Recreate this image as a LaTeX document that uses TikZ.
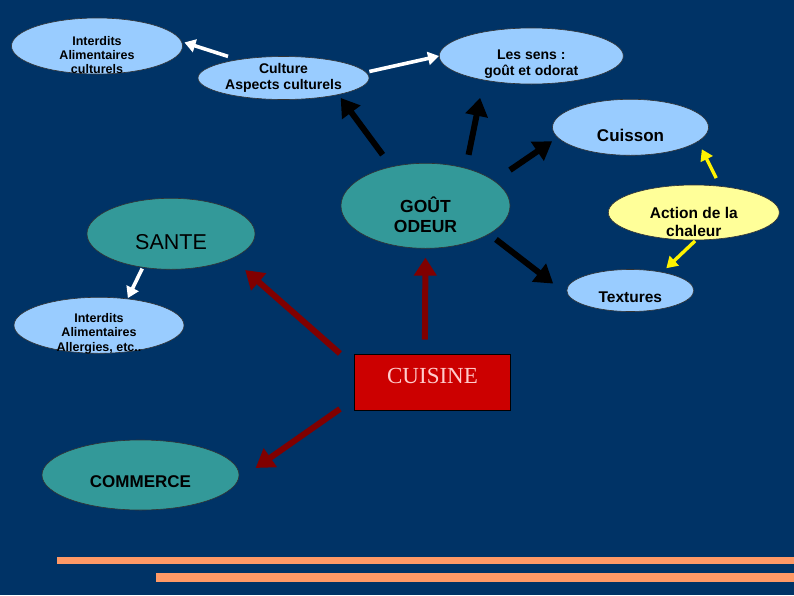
\documentclass[tikz,border=0pt]{standalone}
\usepackage{fontspec}
\setmainfont{Liberation Sans}
\newfontfamily\timesfont{Liberation Serif}
\usetikzlibrary{shapes.geometric, arrows.meta}
\newcommand\sz[2]{\fontsize{#1}{#2}\selectfont}
\definecolor{bg}{RGB}{0,51,102}
\definecolor{lblue}{RGB}{153,204,255}
\definecolor{teal}{RGB}{51,153,153}
\definecolor{lyellow}{RGB}{255,255,153}
\definecolor{cred}{RGB}{204,0,0}
\definecolor{dred}{RGB}{128,0,0}
\definecolor{barcol}{RGB}{255,153,102}
\definecolor{pinktext}{RGB}{255,204,204}
\begin{document}
\begin{tikzpicture}[x=1pt, y=-1pt,
    oval/.style={ellipse, draw=black!80, line width=0.6pt, inner sep=0pt},
    lbl/.style={align=center, text=black},
    warrow/.style={white, line width=3.6pt, -{Triangle[length=11pt, width=13pt]}},
    barrow/.style={black, line width=6pt, -{Triangle[length=18pt, width=22pt]}},
    rarrow/.style={dred, line width=6pt, -{Triangle[length=18pt, width=22pt]}},
    yarrow/.style={yellow, line width=3.4pt, -{Triangle[length=11pt, width=13pt]}}]
  \fill[bg] (0, 0) rectangle (794, 595);
  \useasboundingbox (0, 0) rectangle (794, 595);

  \node[oval, fill=lblue, minimum width=171pt, minimum height=56pt,
    label={[lbl, font=\sz{12.5}{14}\bfseries, yshift=-9pt]center:Interdits\\Alimentaires\\culturels}] (interc) at (97, 46) {};
  \node[oval, fill=lblue, minimum width=171pt, minimum height=43pt,
    label={[lbl, font=\sz{14}{15.5}\bfseries]center:Culture\\Aspects culturels}] (culture) at (283.5, 78) {};
  \node[oval, fill=lblue, minimum width=184pt, minimum height=56pt,
    label={[lbl, font=\sz{14}{16}\bfseries, yshift=-8pt]center:Les sens :\\goût et odorat}] (lessens) at (531.3, 56) {};
  \node[oval, fill=lblue, minimum width=156pt, minimum height=56pt,
    label={[lbl, font=\sz{17}{20}\bfseries, yshift=-8.5pt]center:Cuisson}] (cuisson) at (630.5, 127.3) {};
  \node[oval, fill=teal, minimum width=169pt, minimum height=85pt,
    label={[lbl, font=\sz{17.5}{20.5}\bfseries, yshift=-9pt]center:GOÛT\\ODEUR}] (gout) at (425.5, 205.8) {};
  \node[oval, fill=lyellow, minimum width=171pt, minimum height=55pt,
    label={[lbl, font=\sz{15.5}{18}\bfseries, yshift=-9pt]center:Action de la\\chaleur}] (action) at (693.8, 212.5) {};
  \node[oval, fill=lblue, minimum width=127pt, minimum height=42pt,
    label={[lbl, font=\sz{15.5}{18}\bfseries, yshift=-7pt]center:Textures}] (textures) at (630.3, 290.5) {};
  \node[oval, fill=teal, minimum width=168pt, minimum height=71pt,
    label={[lbl, font=\sz{21.5}{24}, yshift=-8.7pt]center:SANTE}] (sante) at (171, 233.8) {};
  \node[oval, fill=lblue, minimum width=170pt, minimum height=56pt,
    label={[lbl, font=\sz{12.5}{14.5}\bfseries, yshift=-8pt]center:Interdits\\Alimentaires\\Allergies, etc..}] (allerg) at (99, 325.3) {};
  \node[oval, fill=teal, minimum width=197pt, minimum height=70pt,
    label={[lbl, font=\sz{17}{20}\bfseries, yshift=-6.5pt]center:COMMERCE}] (commerce) at (140.5, 475) {};
  \node[draw=black, line width=0.8pt, fill=cred, minimum width=156.4pt, minimum height=56.4pt, inner sep=0pt,
    label={[text=pinktext, font=\timesfont\sz{23}{26}, yshift=6.5pt]center:CUISINE}] (cuisine) at (432.5, 382.5) {};

  \draw[warrow, shorten <=10.3pt, shorten >=2.8pt] (culture.158) -- (interc.3);
  \draw[warrow, shorten <=3.2pt] (culture.4) -- (lessens.west);
  \draw[warrow, shorten <=1.2pt, shorten >=0.6pt] (sante.230) -- (allerg.43);

  \draw[barrow, shorten <=14.8pt, shorten >=3.9pt] (gout.131) -- (culture.343);
  \draw[barrow, shorten <=13.6pt, shorten >=18pt] (gout.43) -- (lessens.207);
  \draw[barrow, shorten <=19pt, shorten >=6.5pt] (gout.20) -- (cuisson.188);
  \draw[barrow, shorten <=8.7pt, shorten >=18.5pt] (gout.336) -- (textures.184);

  \draw[yarrow, shorten <=8.9pt, shorten >=8.5pt] (action.45) -- (cuisson.348);
  \draw[yarrow, shorten <=1pt, shorten >=5.6pt] (action.274) -- (textures.30);

  \draw[rarrow, shorten <=18.6pt, shorten >=17.5pt] (cuisine.168) -- (sante.338);
  \draw[rarrow, shorten <=14.3pt, shorten >=9pt] (cuisine.105) -- (gout.south);
  \draw[rarrow, shorten <=17pt, shorten >=21.2pt] (cuisine.192) -- (commerce.357);

  \fill[barcol] (57, 557) rectangle (794, 564);
  \fill[barcol] (156, 572.5) rectangle (794, 581.5);
\end{tikzpicture}
\end{document}
